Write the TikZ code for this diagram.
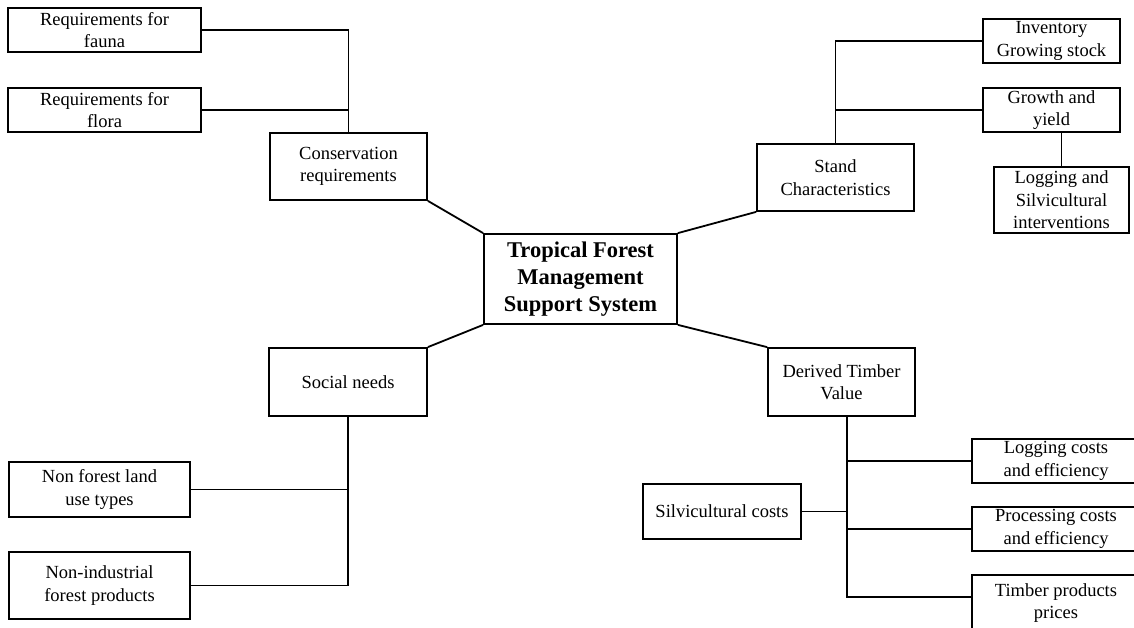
\documentclass[tikz,border=0pt]{standalone}
\usepackage{fontspec}
\setmainfont{Liberation Serif}
\tikzset{
  box/.style={draw, line width=1.8pt, rectangle, inner sep=0pt, align=center,
    font=\fontsize{18.5}{22.5}\selectfont},
  mainbox/.style={box, font=\fontsize{22.5}{27}\selectfont\bfseries},
  conn/.style={line width=1.8pt},
}
\begin{document}
\begin{tikzpicture}[x=1pt, y=-1pt]
\useasboundingbox (0,0) rectangle (1134,628);
\clip (0,0) rectangle (1134,628);
% nodes
\node[box, minimum width=193pt, minimum height=44pt] (fauna) at (104.5,30) {Requirements for\\fauna};
\node[box, minimum width=193pt, minimum height=44pt] (flora) at (104.5,110) {Requirements for\\flora};
\node[box, minimum width=157pt, minimum height=67pt] (cons) at (348.5,166.5) {Conservation\\requirements};
\node[mainbox, minimum width=193pt, minimum height=90pt] (center) at (580.5,279) {Tropical Forest\\Management\\Support System};
\node[box, minimum width=157pt, minimum height=67pt] (stand) at (835.5,177.5) {Stand\\Characteristics};
\node[box, minimum width=137pt, minimum height=44pt] (inv) at (1051.5,41) {Inventory\\Growing stock};
\node[box, minimum width=137pt, minimum height=44pt] (growth) at (1051.5,110) {Growth and\\yield};
\node[box, minimum width=135pt, minimum height=66pt] (logsilv) at (1061.5,200) {Logging and\\Silvicultural\\interventions};
\node[box, minimum width=158pt, minimum height=68pt] (social) at (348,382) {Social needs};
\node[box, minimum width=181pt, minimum height=55pt] (nonforest) at (99.5,489.5) {Non forest land\\use types};
\node[box, minimum width=181pt, minimum height=67pt] (nonind) at (99.5,585.5) {Non-industrial\\forest products};
\node[box, minimum width=147pt, minimum height=68pt] (derived) at (841.5,382) {Derived Timber\\Value};
\node[box, minimum width=168pt, minimum height=44pt] (logcost) at (1056,461) {Logging costs\\and efficiency};
\node[box, minimum width=158pt, minimum height=55pt] (silvcost) at (722,511.5) {Silvicultural costs};
\node[box, minimum width=168pt, minimum height=44pt] (proc) at (1056,529) {Processing costs\\and efficiency};
\node[box, minimum width=168pt, minimum height=56pt] (timber) at (1056,603) {Timber products\\prices};
% connectors
\draw[conn] (fauna.east) -| (cons.north);
\draw[conn] (flora.east) -- (flora.east -| cons.north);
\draw[conn] (stand.north) |- (inv.west);
\draw[conn] (growth.west) -- (growth.west -| stand.north);
\draw[conn] (logsilv.north) -- (logsilv.north |- growth.south);
\draw[conn] (social.south) |- (nonind.east);
\draw[conn] (nonforest.east) -- (nonforest.east -| social.south);
\coordinate (dt) at ([xshift=5.5pt]derived.south);
\draw[conn] (dt) |- ([yshift=6pt]timber.west);
\draw[conn] (logcost.west) -- (logcost.west -| dt);
\draw[conn] (proc.west) -- (proc.west -| dt);
\draw[conn] (silvcost.east) -- (silvcost.east -| dt);
\draw[conn] (center.north west) -- (cons.south east);
\draw[conn] (center.north east) -- (stand.south west);
\draw[conn] (center.south west) -- (social.north east);
\draw[conn] (center.south east) -- (derived.north west);
\end{tikzpicture}
\end{document}
